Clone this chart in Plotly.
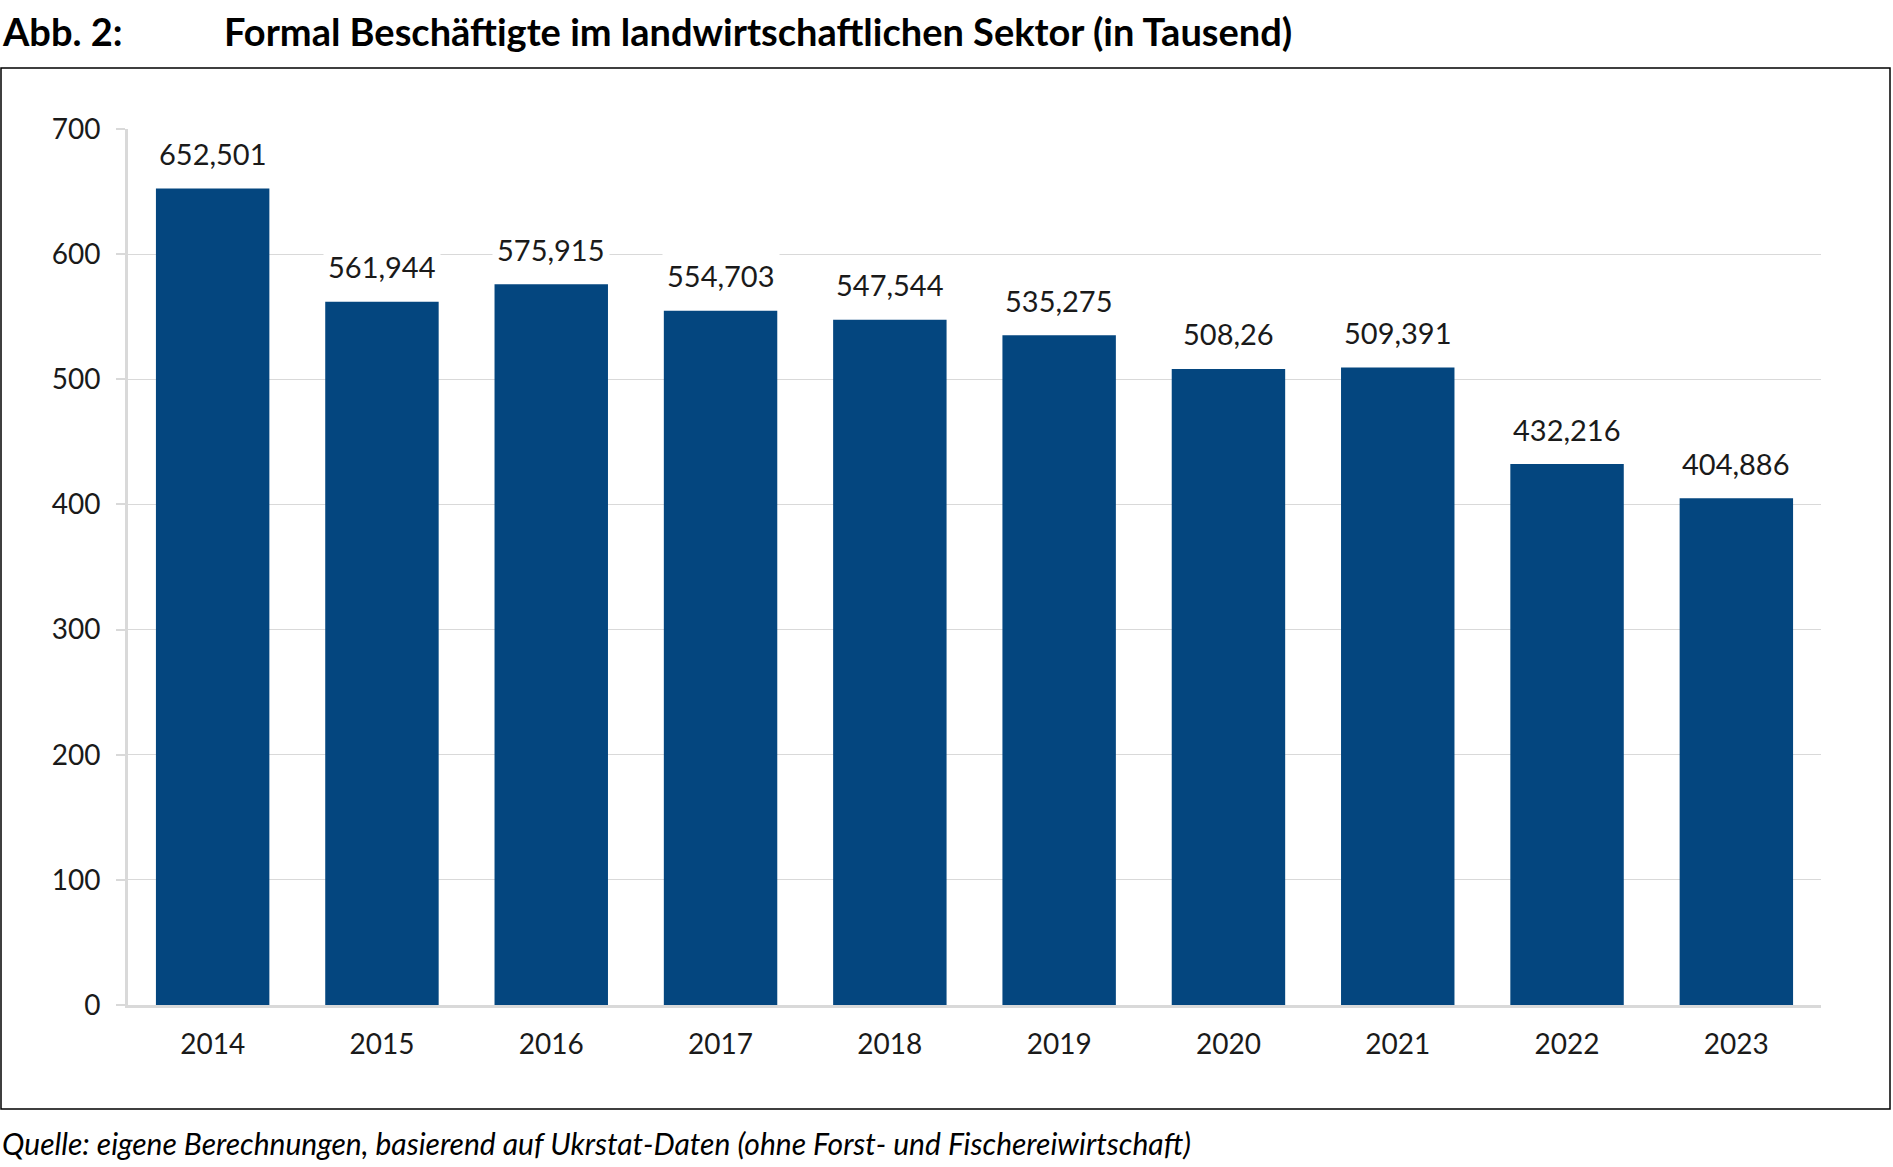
import plotly.graph_objects as go

years = ["2014", "2015", "2016", "2017", "2018", "2019", "2020", "2021", "2022", "2023"]
values = [652.501, 561.944, 575.915, 554.703, 547.544, 535.275, 508.26, 509.391, 432.216, 404.886]
y_ticks = [0, 100, 200, 300, 400, 500, 600, 700]

title_prefix = "Abb. 2:"
title_text = "Formal Beschäftigte im landwirtschaftlichen Sektor (in Tausend)"
source_text = "Quelle: eigene Berechnungen, basierend auf Ukrstat-Daten (ohne Forst- und Fischereiwirtschaft)"

W, H = 1893, 1167
L, R, T, B = 128, 72, 129, 162
PW = W - L - R
PH = H - T - B


def px(x):
    return (x - L) / PW


def py(y):
    return (H - B - y) / PH


labels = [str(v).replace(".", ",") for v in values]
BAR = "#04467f"
GRID = "#d9d9d9"
FONT = "Lato"
TXT = "#1a1a1a"

fig = go.Figure()
fig.add_trace(go.Bar(x=years, y=values, marker=dict(color=BAR, line=dict(width=0)),
                     width=0.67, hoverinfo="x+y"))

for i, (v, lab) in enumerate(zip(values, labels)):
    fig.add_annotation(x=i, y=v, text=lab, showarrow=False, xref="x", yref="y",
                       yanchor="middle", yshift=35, bgcolor="white", borderpad=4,
                       font=dict(family=FONT, size=29, color=TXT))

fig.add_annotation(x=px(0), y=py(31), xref="paper", yref="paper", text="<b>" + title_prefix + "</b>",
                   showarrow=False, xanchor="left", yanchor="middle",
                   font=dict(family=FONT, size=38, color="#000000"))
fig.add_annotation(x=px(222), y=py(31), xref="paper", yref="paper", text="<b>" + title_text + "</b>",
                   showarrow=False, xanchor="left", yanchor="middle",
                   font=dict(family=FONT, size=38, color="#000000"))
fig.add_annotation(x=px(0), y=py(1143), xref="paper", yref="paper", text="<i>" + source_text + "</i>",
                   showarrow=False, xanchor="left", yanchor="middle",
                   font=dict(family=FONT, size=30, color="#000000"))

fig.add_shape(type="rect", xref="paper", yref="paper", x0=px(1), x1=px(1890), y0=py(1109), y1=py(68),
              line=dict(color="#000000", width=1.5), fillcolor="rgba(0,0,0,0)", layer="below")

fig.update_layout(
    width=W, height=H,
    margin=dict(l=L, r=R, t=T, b=B),
    paper_bgcolor="white", plot_bgcolor="white",
    showlegend=False,
    font=dict(family=FONT, size=28, color=TXT),
)
fig.update_xaxes(type="category", range=[-0.5, 9.5], showline=True, linecolor=GRID, linewidth=3,
                 ticks="", showgrid=False, ticklabelstandoff=12,
                 tickfont=dict(family=FONT, size=28, color=TXT))
fig.update_yaxes(range=[0, 700], tickvals=y_ticks, showline=True, linecolor=GRID, linewidth=3,
                 ticks="outside", ticklen=9, tickcolor=GRID, tickwidth=2,
                 showgrid=True, gridcolor=GRID, gridwidth=1, zeroline=False,
                 ticklabelstandoff=10,
                 tickfont=dict(family=FONT, size=28, color=TXT))

fig.write_html("out.html", config={"displayModeBar": False},
               post_script="document.body.style.margin='0px';document.body.style.overflow='hidden';")
